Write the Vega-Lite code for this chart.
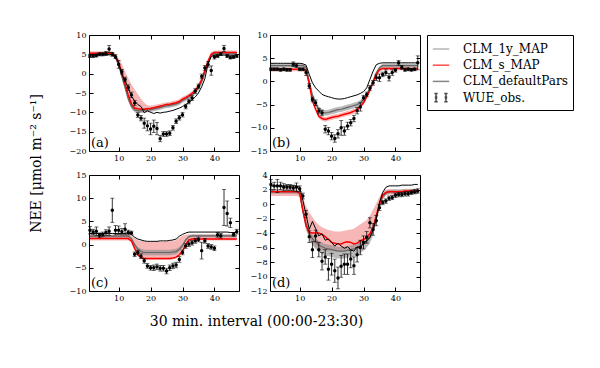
{
"$schema":"https://vega.github.io/schema/vega-lite/v6.json",
"background":"white",
"autosize":{"type":"pad"},
"padding":{"left":28,"top":30,"right":5,"bottom":5},
"datasets":{
"a":[
{"x":1,"o":4.6,"e":0.4,"d":4.9,"s":5.3,"sl":4.8,"sh":5.8,"g":5.1,"gl":4.7,"gh":5.5},
{"x":2,"o":4.6,"e":0.4,"d":4.9,"s":5.3,"sl":4.8,"sh":5.8,"g":5.1,"gl":4.7,"gh":5.5},
{"x":3,"o":4.7,"e":0.4,"d":4.9,"s":5.3,"sl":4.8,"sh":5.8,"g":5.1,"gl":4.7,"gh":5.5},
{"x":4,"o":5.0,"e":0.4,"d":4.9,"s":5.3,"sl":4.8,"sh":5.8,"g":5.1,"gl":4.7,"gh":5.5},
{"x":5,"o":5.0,"e":0.4,"d":4.9,"s":5.3,"sl":4.8,"sh":5.8,"g":5.1,"gl":4.7,"gh":5.5},
{"x":6,"o":5.2,"e":0.5,"d":4.9,"s":5.3,"sl":4.8,"sh":5.8,"g":5.1,"gl":4.7,"gh":5.5},
{"x":7,"o":6.4,"e":0.9,"d":4.9,"s":5.3,"sl":4.8,"sh":5.8,"g":5.1,"gl":4.7,"gh":5.5},
{"x":8,"o":5.0,"e":0.5,"d":4.9,"s":5.3,"sl":4.8,"sh":5.8,"g":5.1,"gl":4.7,"gh":5.5},
{"x":9,"o":4.4,"e":0.5,"d":4.5,"s":4.5,"sl":3.8,"sh":5.2,"g":4.2,"gl":3.7,"gh":4.8},
{"x":10,"o":2.4,"e":1.0,"d":2.7,"s":2.8,"sl":1.9,"sh":4.0,"g":2.2,"gl":1.6,"gh":2.9},
{"x":11,"o":0.5,"e":0.6,"d":-0.2,"s":0.3,"sl":-0.8,"sh":2.5,"g":-0.7,"gl":-1.4,"gh":0.0},
{"x":12,"o":-1.5,"e":0.6,"d":-1.9,"s":-2.6,"sl":-3.6,"sh":0.5,"g":-3.6,"gl":-4.3,"gh":-2.9},
{"x":13,"o":-3.6,"e":0.7,"d":-3.6,"s":-5.5,"sl":-6.4,"sh":-1.2,"g":-6.5,"gl":-7.2,"gh":-5.8},
{"x":14,"o":-5.5,"e":0.7,"d":-5.9,"s":-7.8,"sl":-8.6,"sh":-2.8,"g":-8.5,"gl":-9.1,"gh":-7.9},
{"x":15,"o":-7.6,"e":0.7,"d":-7.0,"s":-8.9,"sl":-9.6,"sh":-4.0,"g":-9.4,"gl":-10.0,"gh":-8.8},
{"x":16,"o":-10.7,"e":0.6,"d":-8.0,"s":-9.1,"sl":-9.8,"sh":-5.3,"g":-9.6,"gl":-10.2,"gh":-9.0},
{"x":17,"o":-11.5,"e":0.7,"d":-8.5,"s":-9.2,"sl":-9.8,"sh":-6.5,"g":-9.6,"gl":-10.2,"gh":-9.0},
{"x":18,"o":-12.8,"e":1.3,"d":-10.1,"s":-9.2,"sl":-9.8,"sh":-7.5,"g":-9.5,"gl":-10.1,"gh":-8.9},
{"x":19,"o":-13.5,"e":1.3,"d":-9.6,"s":-9.1,"sl":-9.7,"sh":-8.2,"g":-9.4,"gl":-10.0,"gh":-8.8},
{"x":20,"o":-14.3,"e":1.5,"d":-10.0,"s":-9.0,"sl":-9.6,"sh":-8.3,"g":-9.3,"gl":-9.9,"gh":-8.7},
{"x":21,"o":-13.6,"e":1.6,"d":-10.3,"s":-8.8,"sl":-9.4,"sh":-8.2,"g":-9.1,"gl":-9.7,"gh":-8.6},
{"x":22,"o":-14.2,"e":1.6,"d":-10.0,"s":-8.6,"sl":-9.2,"sh":-8.0,"g":-8.9,"gl":-9.5,"gh":-8.4},
{"x":23,"o":-16.8,"e":0.8,"d":-10.2,"s":-8.4,"sl":-9.0,"sh":-7.8,"g":-8.7,"gl":-9.3,"gh":-8.2},
{"x":24,"o":-15.6,"e":0.6,"d":-10.0,"s":-8.2,"sl":-8.8,"sh":-7.6,"g":-8.5,"gl":-9.1,"gh":-8.0},
{"x":25,"o":-15.6,"e":0.6,"d":-9.9,"s":-8.0,"sl":-8.6,"sh":-7.4,"g":-8.3,"gl":-8.9,"gh":-7.8},
{"x":26,"o":-15.4,"e":0.6,"d":-9.7,"s":-7.9,"sl":-8.5,"sh":-7.3,"g":-8.2,"gl":-8.8,"gh":-7.7},
{"x":27,"o":-14.0,"e":0.6,"d":-9.5,"s":-7.7,"sl":-8.3,"sh":-7.1,"g":-8.0,"gl":-8.6,"gh":-7.5},
{"x":28,"o":-12.3,"e":0.6,"d":-9.2,"s":-7.5,"sl":-8.1,"sh":-6.9,"g":-7.8,"gl":-8.4,"gh":-7.3},
{"x":29,"o":-11.4,"e":0.6,"d":-8.9,"s":-7.2,"sl":-7.8,"sh":-6.6,"g":-7.5,"gl":-8.1,"gh":-7.0},
{"x":30,"o":-10.6,"e":0.6,"d":-8.5,"s":-6.6,"sl":-7.2,"sh":-6.0,"g":-6.9,"gl":-7.5,"gh":-6.4},
{"x":31,"o":-8.5,"e":0.6,"d":-8.0,"s":-6.2,"sl":-6.8,"sh":-5.6,"g":-6.5,"gl":-7.1,"gh":-6.0},
{"x":32,"o":-7.2,"e":0.6,"d":-7.4,"s":-5.7,"sl":-6.3,"sh":-5.1,"g":-6.0,"gl":-6.6,"gh":-5.5},
{"x":33,"o":-6.3,"e":0.6,"d":-6.8,"s":-5.1,"sl":-5.7,"sh":-4.5,"g":-5.4,"gl":-6.0,"gh":-4.9},
{"x":34,"o":-4.5,"e":0.6,"d":-6.0,"s":-4.4,"sl":-5.0,"sh":-3.8,"g":-4.7,"gl":-5.3,"gh":-4.2},
{"x":35,"o":-3.3,"e":0.6,"d":-5.0,"s":-3.2,"sl":-3.9,"sh":-2.5,"g":-3.6,"gl":-4.3,"gh":-3.0},
{"x":36,"o":-0.7,"e":0.6,"d":-3.4,"s":-1.6,"sl":-2.4,"sh":-0.8,"g":-2.1,"gl":-2.8,"gh":-1.4},
{"x":37,"o":1.5,"e":0.6,"d":-1.3,"s":0.8,"sl":0.0,"sh":1.6,"g":0.3,"gl":-0.4,"gh":1.0},
{"x":38,"o":2.4,"e":0.7,"d":2.5,"s":3.2,"sl":2.5,"sh":3.9,"g":2.8,"gl":2.2,"gh":3.4},
{"x":39,"o":0.8,"e":1.2,"d":4.4,"s":5.0,"sl":4.4,"sh":5.6,"g":4.8,"gl":4.3,"gh":5.3},
{"x":40,"o":4.3,"e":0.5,"d":4.8,"s":5.5,"sl":5.0,"sh":6.0,"g":5.3,"gl":4.9,"gh":5.7},
{"x":41,"o":4.6,"e":0.4,"d":4.8,"s":5.5,"sl":5.0,"sh":6.0,"g":5.3,"gl":4.9,"gh":5.7},
{"x":42,"o":5.1,"e":0.4,"d":4.8,"s":5.5,"sl":5.0,"sh":6.0,"g":5.3,"gl":4.9,"gh":5.7},
{"x":43,"o":6.5,"e":0.8,"d":4.8,"s":5.5,"sl":5.0,"sh":6.0,"g":5.3,"gl":4.9,"gh":5.7},
{"x":44,"o":4.6,"e":0.4,"d":4.8,"s":5.5,"sl":5.0,"sh":6.0,"g":5.3,"gl":4.9,"gh":5.7},
{"x":45,"o":4.2,"e":0.4,"d":4.8,"s":5.5,"sl":5.0,"sh":6.0,"g":5.3,"gl":4.9,"gh":5.7},
{"x":46,"o":4.3,"e":0.4,"d":4.8,"s":5.5,"sl":5.0,"sh":6.0,"g":5.3,"gl":4.9,"gh":5.7},
{"x":47,"o":4.6,"e":0.4,"d":4.8,"s":5.5,"sl":5.0,"sh":6.0,"g":5.3,"gl":4.9,"gh":5.7}
],
"b":[
{"x":1,"o":2.6,"e":0.3,"d":3.9,"s":2.6,"sl":2.2,"sh":3.0,"g":3.4,"gl":3.0,"gh":3.8},
{"x":2,"o":2.6,"e":0.3,"d":3.9,"s":2.6,"sl":2.2,"sh":3.0,"g":3.4,"gl":3.0,"gh":3.8},
{"x":3,"o":2.6,"e":0.3,"d":3.9,"s":2.6,"sl":2.2,"sh":3.0,"g":3.4,"gl":3.0,"gh":3.8},
{"x":4,"o":2.5,"e":0.3,"d":3.9,"s":2.6,"sl":2.2,"sh":3.0,"g":3.4,"gl":3.0,"gh":3.8},
{"x":5,"o":2.6,"e":0.3,"d":3.9,"s":2.6,"sl":2.2,"sh":3.0,"g":3.4,"gl":3.0,"gh":3.8},
{"x":6,"o":2.5,"e":0.3,"d":3.9,"s":2.6,"sl":2.2,"sh":3.0,"g":3.4,"gl":3.0,"gh":3.8},
{"x":7,"o":2.5,"e":0.3,"d":3.9,"s":2.6,"sl":2.2,"sh":3.0,"g":3.4,"gl":3.0,"gh":3.8},
{"x":8,"o":3.7,"e":0.5,"d":3.9,"s":2.6,"sl":2.2,"sh":3.0,"g":3.4,"gl":3.0,"gh":3.8},
{"x":9,"o":3.4,"e":0.4,"d":3.9,"s":2.6,"sl":2.2,"sh":3.0,"g":3.4,"gl":3.0,"gh":3.8},
{"x":10,"o":2.6,"e":0.3,"d":3.9,"s":2.6,"sl":2.2,"sh":3.0,"g":3.4,"gl":3.0,"gh":3.8},
{"x":11,"o":2.6,"e":0.3,"d":3.8,"s":2.6,"sl":2.2,"sh":3.0,"g":3.4,"gl":3.0,"gh":3.8},
{"x":12,"o":1.9,"e":0.6,"d":3.5,"s":2.4,"sl":2.0,"sh":2.8,"g":3.0,"gl":2.6,"gh":3.4},
{"x":13,"o":-1.0,"e":0.5,"d":1.5,"s":-0.6,"sl":-1.1,"sh":-0.1,"g":0.0,"gl":-0.5,"gh":0.5},
{"x":14,"o":-3.9,"e":0.5,"d":-0.3,"s":-4.2,"sl":-4.7,"sh":-3.7,"g":-3.0,"gl":-3.6,"gh":-2.4},
{"x":15,"o":-4.6,"e":0.6,"d":-1.4,"s":-6.0,"sl":-6.5,"sh":-5.5,"g":-4.8,"gl":-5.4,"gh":-4.2},
{"x":16,"o":-6.4,"e":0.6,"d":-2.1,"s":-7.5,"sl":-8.0,"sh":-7.0,"g":-6.0,"gl":-6.6,"gh":-5.4},
{"x":17,"o":-6.8,"e":0.6,"d":-2.8,"s":-8.0,"sl":-8.5,"sh":-7.5,"g":-6.6,"gl":-7.2,"gh":-6.0},
{"x":18,"o":-10.3,"e":0.8,"d":-3.1,"s":-8.2,"sl":-8.7,"sh":-7.7,"g":-6.8,"gl":-7.4,"gh":-6.2},
{"x":19,"o":-10.7,"e":0.8,"d":-3.3,"s":-8.0,"sl":-8.5,"sh":-7.5,"g":-6.7,"gl":-7.3,"gh":-6.1},
{"x":20,"o":-11.8,"e":0.8,"d":-3.5,"s":-7.8,"sl":-8.3,"sh":-7.3,"g":-6.5,"gl":-7.1,"gh":-5.9},
{"x":21,"o":-12.3,"e":0.8,"d":-3.7,"s":-7.6,"sl":-8.1,"sh":-7.1,"g":-6.3,"gl":-6.9,"gh":-5.7},
{"x":22,"o":-11.3,"e":0.9,"d":-3.8,"s":-7.5,"sl":-8.0,"sh":-7.0,"g":-6.1,"gl":-6.7,"gh":-5.5},
{"x":23,"o":-10.0,"e":1.6,"d":-3.8,"s":-7.3,"sl":-7.8,"sh":-6.8,"g":-6.0,"gl":-6.6,"gh":-5.4},
{"x":24,"o":-10.7,"e":0.9,"d":-3.7,"s":-7.1,"sl":-7.6,"sh":-6.6,"g":-5.8,"gl":-6.4,"gh":-5.2},
{"x":25,"o":-9.6,"e":0.8,"d":-3.5,"s":-6.9,"sl":-7.4,"sh":-6.4,"g":-5.6,"gl":-6.2,"gh":-5.0},
{"x":26,"o":-8.9,"e":0.7,"d":-3.3,"s":-6.7,"sl":-7.2,"sh":-6.2,"g":-5.4,"gl":-6.0,"gh":-4.8},
{"x":27,"o":-8.0,"e":0.7,"d":-3.1,"s":-6.4,"sl":-6.9,"sh":-5.9,"g":-5.2,"gl":-5.8,"gh":-4.6},
{"x":28,"o":-6.3,"e":0.7,"d":-2.9,"s":-6.1,"sl":-6.6,"sh":-5.6,"g":-5.0,"gl":-5.6,"gh":-4.4},
{"x":29,"o":-5.5,"e":0.9,"d":-2.6,"s":-5.4,"sl":-5.9,"sh":-4.9,"g":-4.6,"gl":-5.2,"gh":-4.0},
{"x":30,"o":-3.5,"e":0.5,"d":-2.2,"s":-4.6,"sl":-5.1,"sh":-4.1,"g":-4.0,"gl":-4.6,"gh":-3.4},
{"x":31,"o":-2.8,"e":0.5,"d":-1.4,"s":-3.3,"sl":-3.8,"sh":-2.8,"g":-3.0,"gl":-3.5,"gh":-2.5},
{"x":32,"o":-1.4,"e":0.5,"d":0.4,"s":-1.9,"sl":-2.4,"sh":-1.4,"g":-1.6,"gl":-2.1,"gh":-1.1},
{"x":33,"o":-0.3,"e":0.5,"d":2.2,"s":-0.2,"sl":-0.7,"sh":0.3,"g":0.0,"gl":-0.5,"gh":0.5},
{"x":34,"o":0.8,"e":0.6,"d":3.6,"s":1.5,"sl":1.1,"sh":1.9,"g":1.8,"gl":1.4,"gh":2.2},
{"x":35,"o":0.8,"e":0.8,"d":3.9,"s":2.5,"sl":2.1,"sh":2.9,"g":2.9,"gl":2.5,"gh":3.3},
{"x":36,"o":1.5,"e":0.5,"d":4.0,"s":2.8,"sl":2.4,"sh":3.2,"g":3.4,"gl":3.0,"gh":3.8},
{"x":37,"o":1.9,"e":0.6,"d":4.0,"s":2.8,"sl":2.4,"sh":3.2,"g":3.4,"gl":3.0,"gh":3.8},
{"x":38,"o":0.9,"e":0.8,"d":4.0,"s":2.8,"sl":2.4,"sh":3.2,"g":3.4,"gl":3.0,"gh":3.8},
{"x":39,"o":1.9,"e":0.6,"d":4.0,"s":2.8,"sl":2.4,"sh":3.2,"g":3.4,"gl":3.0,"gh":3.8},
{"x":40,"o":2.4,"e":0.4,"d":4.0,"s":2.8,"sl":2.4,"sh":3.2,"g":3.4,"gl":3.0,"gh":3.8},
{"x":41,"o":4.0,"e":0.5,"d":4.0,"s":2.8,"sl":2.4,"sh":3.2,"g":3.4,"gl":3.0,"gh":3.8},
{"x":42,"o":3.0,"e":0.4,"d":4.0,"s":2.8,"sl":2.4,"sh":3.2,"g":3.4,"gl":3.0,"gh":3.8},
{"x":43,"o":2.5,"e":0.3,"d":4.0,"s":2.8,"sl":2.4,"sh":3.2,"g":3.4,"gl":3.0,"gh":3.8},
{"x":44,"o":2.6,"e":0.3,"d":4.0,"s":2.8,"sl":2.4,"sh":3.2,"g":3.4,"gl":3.0,"gh":3.8},
{"x":45,"o":2.5,"e":0.3,"d":4.0,"s":2.7,"sl":2.3,"sh":3.1,"g":3.4,"gl":3.0,"gh":3.8},
{"x":46,"o":2.6,"e":0.3,"d":4.0,"s":2.7,"sl":2.3,"sh":3.1,"g":3.4,"gl":3.0,"gh":3.8},
{"x":47,"o":4.0,"e":1.5,"d":4.0,"s":2.7,"sl":2.3,"sh":3.1,"g":3.4,"gl":3.0,"gh":3.8}
],
"c":[
{"x":1,"o":3.1,"e":0.8,"d":2.4,"s":1.3,"sl":0.9,"sh":2.1,"g":1.8,"gl":1.5,"gh":2.1},
{"x":2,"o":2.7,"e":0.6,"d":2.4,"s":1.3,"sl":0.9,"sh":2.1,"g":1.8,"gl":1.5,"gh":2.1},
{"x":3,"o":2.9,"e":0.9,"d":2.4,"s":1.3,"sl":0.9,"sh":2.1,"g":1.8,"gl":1.5,"gh":2.1},
{"x":4,"o":2.0,"e":0.5,"d":2.4,"s":1.3,"sl":0.9,"sh":2.1,"g":1.8,"gl":1.5,"gh":2.1},
{"x":5,"o":2.2,"e":0.5,"d":2.4,"s":1.3,"sl":0.9,"sh":2.1,"g":1.8,"gl":1.5,"gh":2.1},
{"x":6,"o":2.6,"e":0.6,"d":2.4,"s":1.3,"sl":0.9,"sh":2.1,"g":1.8,"gl":1.5,"gh":2.1},
{"x":7,"o":2.9,"e":0.9,"d":2.4,"s":1.3,"sl":0.9,"sh":2.1,"g":1.8,"gl":1.5,"gh":2.1},
{"x":8,"o":7.4,"e":2.6,"d":2.4,"s":1.3,"sl":0.9,"sh":2.1,"g":1.8,"gl":1.5,"gh":2.1},
{"x":9,"o":3.1,"e":1.0,"d":2.4,"s":1.3,"sl":0.9,"sh":2.1,"g":1.8,"gl":1.5,"gh":2.1},
{"x":10,"o":3.1,"e":0.9,"d":2.4,"s":1.3,"sl":0.9,"sh":2.1,"g":1.8,"gl":1.5,"gh":2.1},
{"x":11,"o":2.8,"e":0.7,"d":2.4,"s":1.3,"sl":0.9,"sh":2.1,"g":1.8,"gl":1.5,"gh":2.1},
{"x":12,"o":3.3,"e":1.2,"d":2.4,"s":1.3,"sl":0.9,"sh":2.1,"g":1.8,"gl":1.5,"gh":2.1},
{"x":13,"o":2.6,"e":0.5,"d":2.5,"s":1.3,"sl":0.9,"sh":2.1,"g":1.8,"gl":1.5,"gh":2.1},
{"x":14,"o":2.5,"e":0.4,"d":2.2,"s":0.8,"sl":0.5,"sh":1.9,"g":1.3,"gl":1.0,"gh":1.6},
{"x":15,"o":-2.1,"e":0.5,"d":1.6,"s":-0.8,"sl":-1.1,"sh":1.4,"g":0.0,"gl":-0.4,"gh":0.4},
{"x":16,"o":-1.7,"e":0.5,"d":1.2,"s":-2.2,"sl":-2.5,"sh":1.0,"g":-1.0,"gl":-1.5,"gh":-0.5},
{"x":17,"o":-2.5,"e":0.5,"d":1.0,"s":-2.8,"sl":-3.1,"sh":0.8,"g":-1.5,"gl":-2.1,"gh":-0.9},
{"x":18,"o":-3.5,"e":0.5,"d":0.8,"s":-3.0,"sl":-3.3,"sh":0.7,"g":-1.7,"gl":-2.3,"gh":-1.1},
{"x":19,"o":-4.6,"e":0.5,"d":0.7,"s":-3.0,"sl":-3.3,"sh":0.6,"g":-1.7,"gl":-2.3,"gh":-1.1},
{"x":20,"o":-5.0,"e":0.5,"d":0.7,"s":-3.0,"sl":-3.3,"sh":0.6,"g":-1.7,"gl":-2.3,"gh":-1.1},
{"x":21,"o":-5.0,"e":0.6,"d":0.7,"s":-3.0,"sl":-3.3,"sh":0.6,"g":-1.7,"gl":-2.3,"gh":-1.1},
{"x":22,"o":-4.8,"e":0.6,"d":0.7,"s":-3.0,"sl":-3.3,"sh":0.6,"g":-1.7,"gl":-2.3,"gh":-1.1},
{"x":23,"o":-5.1,"e":0.6,"d":0.8,"s":-3.0,"sl":-3.3,"sh":0.6,"g":-1.7,"gl":-2.3,"gh":-1.1},
{"x":24,"o":-5.1,"e":0.6,"d":0.8,"s":-3.0,"sl":-3.3,"sh":0.6,"g":-1.7,"gl":-2.3,"gh":-1.1},
{"x":25,"o":-5.7,"e":0.6,"d":0.8,"s":-3.0,"sl":-3.3,"sh":0.7,"g":-1.7,"gl":-2.3,"gh":-1.1},
{"x":26,"o":-5.0,"e":0.6,"d":0.9,"s":-3.0,"sl":-3.3,"sh":0.7,"g":-1.7,"gl":-2.3,"gh":-1.1},
{"x":27,"o":-4.6,"e":0.6,"d":1.0,"s":-2.9,"sl":-3.2,"sh":0.8,"g":-1.6,"gl":-2.2,"gh":-1.0},
{"x":28,"o":-4.4,"e":0.6,"d":1.2,"s":-2.7,"sl":-3.0,"sh":1.0,"g":-1.5,"gl":-2.1,"gh":-0.9},
{"x":29,"o":-3.2,"e":0.6,"d":1.8,"s":-2.2,"sl":-2.5,"sh":1.5,"g":-1.0,"gl":-1.5,"gh":-0.5},
{"x":30,"o":-1.7,"e":0.5,"d":2.2,"s":-1.4,"sl":-1.7,"sh":1.9,"g":-0.2,"gl":-0.6,"gh":0.2},
{"x":31,"o":-0.3,"e":0.5,"d":2.5,"s":0.0,"sl":-0.3,"sh":2.1,"g":1.0,"gl":0.7,"gh":1.3},
{"x":32,"o":0.1,"e":0.5,"d":2.7,"s":1.0,"sl":0.7,"sh":2.2,"g":1.7,"gl":1.4,"gh":2.0},
{"x":33,"o":0.4,"e":0.5,"d":2.7,"s":1.2,"sl":0.9,"sh":2.2,"g":1.9,"gl":1.6,"gh":2.2},
{"x":34,"o":0.8,"e":0.5,"d":2.7,"s":1.2,"sl":0.9,"sh":2.2,"g":1.9,"gl":1.6,"gh":2.2},
{"x":35,"o":1.1,"e":0.5,"d":2.7,"s":1.2,"sl":0.9,"sh":2.2,"g":1.9,"gl":1.6,"gh":2.2},
{"x":36,"o":-1.3,"e":1.8,"d":2.7,"s":1.2,"sl":0.9,"sh":2.2,"g":1.9,"gl":1.6,"gh":2.2},
{"x":37,"o":0.8,"e":0.5,"d":2.7,"s":1.2,"sl":0.9,"sh":2.2,"g":1.9,"gl":1.6,"gh":2.2},
{"x":38,"o":-0.3,"e":0.5,"d":2.7,"s":1.2,"sl":0.9,"sh":2.2,"g":1.9,"gl":1.6,"gh":2.2},
{"x":39,"o":-0.5,"e":0.5,"d":2.7,"s":1.2,"sl":0.9,"sh":2.2,"g":1.9,"gl":1.6,"gh":2.2},
{"x":40,"o":-0.8,"e":0.5,"d":2.7,"s":1.2,"sl":0.9,"sh":2.2,"g":1.9,"gl":1.6,"gh":2.2},
{"x":41,"o":2.1,"e":0.5,"d":2.7,"s":1.2,"sl":0.9,"sh":2.2,"g":1.9,"gl":1.6,"gh":2.2},
{"x":42,"o":1.9,"e":0.5,"d":2.7,"s":1.2,"sl":0.9,"sh":2.2,"g":1.9,"gl":1.6,"gh":2.2},
{"x":43,"o":8.0,"e":3.9,"d":2.7,"s":1.2,"sl":0.9,"sh":2.2,"g":1.9,"gl":1.6,"gh":2.2},
{"x":44,"o":6.7,"e":2.7,"d":2.7,"s":1.2,"sl":0.9,"sh":2.2,"g":1.9,"gl":1.6,"gh":2.2},
{"x":45,"o":4.7,"e":1.0,"d":2.6,"s":1.2,"sl":0.9,"sh":2.2,"g":1.9,"gl":1.6,"gh":2.2},
{"x":46,"o":2.2,"e":0.4,"d":2.6,"s":1.2,"sl":0.9,"sh":2.2,"g":1.9,"gl":1.6,"gh":2.2},
{"x":47,"o":2.8,"e":0.5,"d":2.6,"s":1.2,"sl":0.9,"sh":2.2,"g":1.9,"gl":1.6,"gh":2.2}
],
"d":[
{"x":1,"o":2.7,"e":0.7,"d":2.5,"s":1.7,"sl":1.1,"sh":2.0,"g":1.7,"gl":1.4,"gh":2.0},
{"x":2,"o":2.5,"e":0.5,"d":2.5,"s":1.7,"sl":1.1,"sh":2.0,"g":1.7,"gl":1.4,"gh":2.0},
{"x":3,"o":2.5,"e":0.9,"d":2.5,"s":1.7,"sl":1.1,"sh":2.0,"g":1.7,"gl":1.4,"gh":2.0},
{"x":4,"o":2.5,"e":0.5,"d":2.5,"s":1.7,"sl":1.1,"sh":2.0,"g":1.7,"gl":1.4,"gh":2.0},
{"x":5,"o":2.3,"e":0.5,"d":2.5,"s":1.7,"sl":1.1,"sh":2.0,"g":1.7,"gl":1.4,"gh":2.0},
{"x":6,"o":2.3,"e":0.4,"d":2.5,"s":1.7,"sl":1.1,"sh":2.0,"g":1.7,"gl":1.4,"gh":2.0},
{"x":7,"o":2.3,"e":0.4,"d":2.5,"s":1.7,"sl":1.1,"sh":2.0,"g":1.7,"gl":1.4,"gh":2.0},
{"x":8,"o":2.2,"e":0.4,"d":2.5,"s":1.7,"sl":1.1,"sh":2.0,"g":1.7,"gl":1.4,"gh":2.0},
{"x":9,"o":2.3,"e":0.6,"d":2.5,"s":1.7,"sl":1.1,"sh":2.0,"g":1.7,"gl":1.4,"gh":2.0},
{"x":10,"o":2.1,"e":0.4,"d":2.3,"s":1.5,"sl":1.0,"sh":1.9,"g":1.5,"gl":1.2,"gh":1.8},
{"x":11,"o":1.1,"e":0.4,"d":0.5,"s":-0.8,"sl":-1.5,"sh":0.9,"g":-1.0,"gl":-1.4,"gh":-0.6},
{"x":12,"o":-1.4,"e":0.5,"d":-1.5,"s":-3.0,"sl":-3.6,"sh":-0.3,"g":-2.8,"gl":-3.4,"gh":-2.2},
{"x":13,"o":-4.5,"e":0.8,"d":-3.5,"s":-3.9,"sl":-4.6,"sh":-1.2,"g":-4.0,"gl":-4.8,"gh":-3.4},
{"x":14,"o":-6.3,"e":1.1,"d":-2.4,"s":-4.0,"sl":-5.5,"sh":-1.8,"g":-4.8,"gl":-5.7,"gh":-4.2},
{"x":15,"o":-4.4,"e":0.8,"d":-3.4,"s":-4.0,"sl":-5.9,"sh":-2.4,"g":-5.3,"gl":-6.2,"gh":-4.7},
{"x":16,"o":-6.3,"e":1.0,"d":-4.4,"s":-4.0,"sl":-6.1,"sh":-2.9,"g":-5.7,"gl":-6.6,"gh":-5.1},
{"x":17,"o":-7.9,"e":1.2,"d":-4.1,"s":-4.2,"sl":-6.3,"sh":-3.2,"g":-5.9,"gl":-6.9,"gh":-5.3},
{"x":18,"o":-7.3,"e":1.0,"d":-5.0,"s":-4.5,"sl":-6.4,"sh":-3.4,"g":-6.1,"gl":-7.1,"gh":-5.5},
{"x":19,"o":-9.0,"e":1.5,"d":-4.8,"s":-4.9,"sl":-6.5,"sh":-3.6,"g":-6.2,"gl":-7.2,"gh":-5.6},
{"x":20,"o":-8.3,"e":1.5,"d":-5.3,"s":-5.3,"sl":-6.5,"sh":-3.7,"g":-6.3,"gl":-7.3,"gh":-5.7},
{"x":21,"o":-9.2,"e":1.6,"d":-5.8,"s":-5.4,"sl":-6.5,"sh":-3.8,"g":-6.4,"gl":-7.4,"gh":-5.8},
{"x":22,"o":-10.2,"e":1.5,"d":-5.4,"s":-5.5,"sl":-6.5,"sh":-3.8,"g":-6.5,"gl":-7.5,"gh":-5.9},
{"x":23,"o":-8.6,"e":1.5,"d":-5.8,"s":-5.5,"sl":-6.5,"sh":-3.8,"g":-6.5,"gl":-7.5,"gh":-5.9},
{"x":24,"o":-8.3,"e":1.4,"d":-6.1,"s":-5.3,"sl":-6.5,"sh":-3.7,"g":-6.5,"gl":-7.5,"gh":-5.9},
{"x":25,"o":-8.3,"e":1.4,"d":-5.9,"s":-5.2,"sl":-6.4,"sh":-3.6,"g":-6.4,"gl":-7.4,"gh":-5.8},
{"x":26,"o":-7.6,"e":1.2,"d":-6.3,"s":-5.3,"sl":-6.4,"sh":-3.5,"g":-6.3,"gl":-7.3,"gh":-5.7},
{"x":27,"o":-8.5,"e":1.2,"d":-6.5,"s":-5.5,"sl":-6.3,"sh":-3.4,"g":-6.2,"gl":-7.2,"gh":-5.6},
{"x":28,"o":-7.0,"e":1.0,"d":-5.9,"s":-5.4,"sl":-6.3,"sh":-3.1,"g":-6.0,"gl":-7.0,"gh":-5.4},
{"x":29,"o":-6.0,"e":1.0,"d":-6.0,"s":-5.1,"sl":-6.1,"sh":-2.8,"g":-5.8,"gl":-6.8,"gh":-5.2},
{"x":30,"o":-5.3,"e":0.9,"d":-5.4,"s":-4.9,"sl":-5.8,"sh":-2.5,"g":-5.5,"gl":-6.4,"gh":-4.9},
{"x":31,"o":-4.6,"e":0.8,"d":-5.1,"s":-4.6,"sl":-5.4,"sh":-2.2,"g":-5.1,"gl":-6.0,"gh":-4.5},
{"x":32,"o":-2.6,"e":0.7,"d":-4.6,"s":-4.1,"sl":-4.8,"sh":-1.6,"g":-4.6,"gl":-5.4,"gh":-4.0},
{"x":33,"o":-3.5,"e":0.8,"d":-3.6,"s":-3.3,"sl":-3.8,"sh":-0.8,"g":-3.6,"gl":-4.3,"gh":-3.0},
{"x":34,"o":-2.3,"e":0.7,"d":-2.0,"s":-1.6,"sl":-2.3,"sh":0.1,"g":-2.0,"gl":-2.6,"gh":-1.5},
{"x":35,"o":-0.5,"e":0.4,"d":0.2,"s":0.0,"sl":-0.5,"sh":1.0,"g":-0.2,"gl":-0.7,"gh":0.3},
{"x":36,"o":0.2,"e":0.3,"d":1.6,"s":1.2,"sl":0.8,"sh":1.7,"g":1.0,"gl":0.6,"gh":1.4},
{"x":37,"o":0.4,"e":0.3,"d":2.3,"s":1.6,"sl":1.2,"sh":2.0,"g":1.5,"gl":1.2,"gh":1.8},
{"x":38,"o":0.8,"e":0.3,"d":2.5,"s":1.7,"sl":1.3,"sh":2.0,"g":1.7,"gl":1.4,"gh":2.0},
{"x":39,"o":0.9,"e":0.3,"d":2.5,"s":1.7,"sl":1.3,"sh":2.0,"g":1.7,"gl":1.4,"gh":2.0},
{"x":40,"o":1.2,"e":0.3,"d":2.5,"s":1.7,"sl":1.3,"sh":2.0,"g":1.7,"gl":1.4,"gh":2.0},
{"x":41,"o":1.3,"e":0.3,"d":2.5,"s":1.7,"sl":1.3,"sh":2.0,"g":1.7,"gl":1.4,"gh":2.0},
{"x":42,"o":1.3,"e":0.3,"d":2.6,"s":1.7,"sl":1.3,"sh":2.0,"g":1.7,"gl":1.4,"gh":2.0},
{"x":43,"o":1.4,"e":0.3,"d":2.6,"s":1.8,"sl":1.4,"sh":2.1,"g":1.7,"gl":1.4,"gh":2.0},
{"x":44,"o":1.4,"e":0.3,"d":2.6,"s":1.8,"sl":1.4,"sh":2.1,"g":1.7,"gl":1.4,"gh":2.0},
{"x":45,"o":1.6,"e":0.3,"d":2.6,"s":1.8,"sl":1.4,"sh":2.1,"g":1.7,"gl":1.4,"gh":2.0},
{"x":46,"o":1.7,"e":0.3,"d":2.7,"s":1.8,"sl":1.4,"sh":2.1,"g":1.7,"gl":1.4,"gh":2.0},
{"x":47,"o":1.8,"e":0.3,"d":2.7,"s":1.8,"sl":1.4,"sh":2.1,"g":1.7,"gl":1.4,"gh":2.0}
]
},
"columns":2,
"spacing":{"row":24,"column":31},
"bounds":"flush",
"concat":[
{"width":150,"height":116,"data":{"name":"a"},
 "encoding":{"x":{"field":"x","type":"quantitative","scale":{"domain":[0.7,47.7],"nice":false,"zero":false},"axis":{"values":[10,20,30,40],"title":null}}},
 "resolve":{"axis":{"x":"independent","y":"independent"}},
 "layer":[
 {"layer":[
  {"mark":{"type":"area","color":"#f07070","opacity":0.5},"encoding":{"y":{"field":"sl","type":"quantitative","scale":{"domain":[-20,10],"nice":false,"zero":false},"axis":{"values":[-20,-15,-10,-5,0,5,10],"title":"NEE [μmol m⁻² s⁻¹]","titleX":-53,"titleY":128,"titleAngle":270,"titleAlign":"center","titleBaseline":"middle"}},"y2":{"field":"sh"}}},
  {"mark":{"type":"area","color":"#8a8a8a","opacity":0.6},"encoding":{"y":{"field":"gl","type":"quantitative","axis":{"values":[-20,-15,-10,-5,0,5,10],"title":"NEE [μmol m⁻² s⁻¹]","titleX":-53,"titleY":128,"titleAngle":270,"titleAlign":"center","titleBaseline":"middle"}},"y2":{"field":"gh"}}},
  {"mark":{"type":"line","color":"#666666","strokeWidth":1.2},"encoding":{"y":{"field":"g","type":"quantitative","axis":{"values":[-20,-15,-10,-5,0,5,10],"title":"NEE [μmol m⁻² s⁻¹]","titleX":-53,"titleY":128,"titleAngle":270,"titleAlign":"center","titleBaseline":"middle"}}}},
  {"mark":{"type":"line","color":"#ff0000","strokeWidth":1.5},"encoding":{"y":{"field":"s","type":"quantitative","axis":{"values":[-20,-15,-10,-5,0,5,10],"title":"NEE [μmol m⁻² s⁻¹]","titleX":-53,"titleY":128,"titleAngle":270,"titleAlign":"center","titleBaseline":"middle"}}}},
  {"mark":{"type":"line","color":"#000000","strokeWidth":1},"encoding":{"y":{"field":"d","type":"quantitative","axis":{"values":[-20,-15,-10,-5,0,5,10],"title":"NEE [μmol m⁻² s⁻¹]","titleX":-53,"titleY":128,"titleAngle":270,"titleAlign":"center","titleBaseline":"middle"}}}},
  {"mark":{"type":"errorbar","ticks":true,"size":4,"thickness":0.8,"color":"#000000"},"encoding":{"y":{"field":"o","type":"quantitative","axis":{"values":[-20,-15,-10,-5,0,5,10],"title":"NEE [μmol m⁻² s⁻¹]","titleX":-53,"titleY":128,"titleAngle":270,"titleAlign":"center","titleBaseline":"middle"}},"yError":{"field":"e"}}},
  {"mark":{"type":"point","filled":true,"size":12,"color":"#000000","opacity":1},"encoding":{"y":{"field":"o","type":"quantitative","axis":{"values":[-20,-15,-10,-5,0,5,10],"title":"NEE [μmol m⁻² s⁻¹]","titleX":-53,"titleY":128,"titleAngle":270,"titleAlign":"center","titleBaseline":"middle"}}}},
  {"data":{"values":[{"k":"CLM_1y_MAP"},{"k":"CLM_s_MAP"},{"k":"CLM_defaultPars"},{"k":"WUE_obs."}]},
   "mark":{"type":"point","filled":false,"clip":true,"invalid":"filter"},
   "encoding":{"y":{"field":"none","type":"quantitative","axis":{"values":[-20,-15,-10,-5,0,5,10],"title":"NEE [μmol m⁻² s⁻¹]","titleX":-53,"titleY":128,"titleAngle":270,"titleAlign":"center","titleBaseline":"middle"}},
    "color":{"field":"k","type":"nominal","scale":{"domain":["CLM_1y_MAP","CLM_s_MAP","CLM_defaultPars","WUE_obs."],"range":["#999999","#ff0000","#555555","#000000"]},"legend":{"title":null}},
    "shape":{"field":"k","type":"nominal","scale":{"domain":["CLM_1y_MAP","CLM_s_MAP","CLM_defaultPars","WUE_obs."],"range":["M-1,0L1,0","M-1,0L1,0","M-1,0L1,0","M-0.6,-0.5L-0.6,0.5M-0.8,-0.5L-0.4,-0.5M-0.8,0.5L-0.4,0.5M0.6,-0.5L0.6,0.5M0.4,-0.5L0.8,-0.5M0.4,0.5L0.8,0.5M-0.66,-0.06L-0.54,-0.06L-0.54,0.06L-0.66,0.06ZM0.54,-0.06L0.66,-0.06L0.66,0.06L0.54,0.06Z"]},"legend":{"title":null}}}}
 ]},
  {"transform":[{"filter":"datum.x == 1"}],"mark":{"type":"text","font":"DejaVu Serif","fontSize":13,"align":"left","baseline":"bottom","dx":1,"dy":-1,"fill":"#000000","clip":false},"encoding":{"x":{"field":"x","type":"quantitative","axis":{"orient":"top","values":[10,20,30,40],"labels":false,"title":null}},"y":{"datum":-20,"type":"quantitative","axis":{"orient":"right","values":[-20,-15,-10,-5,0,5,10],"labels":false,"title":null}},"text":{"value":"(a)"}}}
 ]},
{"width":150,"height":116,"data":{"name":"b"},
 "encoding":{"x":{"field":"x","type":"quantitative","scale":{"domain":[0.7,47.7],"nice":false,"zero":false},"axis":{"values":[10,20,30,40],"title":null}}},
 "resolve":{"axis":{"x":"independent","y":"independent"}},
 "layer":[
 {"layer":[
  {"mark":{"type":"area","color":"#f07070","opacity":0.5},"encoding":{"y":{"field":"sl","type":"quantitative","scale":{"domain":[-15,10],"nice":false,"zero":false},"axis":{"values":[-15,-10,-5,0,5,10],"title":null}},"y2":{"field":"sh"}}},
  {"mark":{"type":"area","color":"#8a8a8a","opacity":0.6},"encoding":{"y":{"field":"gl","type":"quantitative","axis":{"values":[-15,-10,-5,0,5,10],"title":null}},"y2":{"field":"gh"}}},
  {"mark":{"type":"line","color":"#666666","strokeWidth":1.2},"encoding":{"y":{"field":"g","type":"quantitative","axis":{"values":[-15,-10,-5,0,5,10],"title":null}}}},
  {"mark":{"type":"line","color":"#ff0000","strokeWidth":1.5},"encoding":{"y":{"field":"s","type":"quantitative","axis":{"values":[-15,-10,-5,0,5,10],"title":null}}}},
  {"mark":{"type":"line","color":"#000000","strokeWidth":1},"encoding":{"y":{"field":"d","type":"quantitative","axis":{"values":[-15,-10,-5,0,5,10],"title":null}}}},
  {"mark":{"type":"errorbar","ticks":true,"size":4,"thickness":0.8,"color":"#000000"},"encoding":{"y":{"field":"o","type":"quantitative","axis":{"values":[-15,-10,-5,0,5,10],"title":null}},"yError":{"field":"e"}}},
  {"mark":{"type":"point","filled":true,"size":12,"color":"#000000","opacity":1},"encoding":{"y":{"field":"o","type":"quantitative","axis":{"values":[-15,-10,-5,0,5,10],"title":null}}}}
 ]},
  {"transform":[{"filter":"datum.x == 1"}],"mark":{"type":"text","font":"DejaVu Serif","fontSize":13,"align":"left","baseline":"bottom","dx":1,"dy":-1,"fill":"#000000","clip":false},"encoding":{"x":{"field":"x","type":"quantitative","axis":{"orient":"top","values":[10,20,30,40],"labels":false,"title":null}},"y":{"datum":-15,"type":"quantitative","axis":{"orient":"right","values":[-15,-10,-5,0,5,10],"labels":false,"title":null}},"text":{"value":"(b)"}}}
 ]},
{"width":150,"height":116,"data":{"name":"c"},
 "encoding":{"x":{"field":"x","type":"quantitative","scale":{"domain":[0.7,47.7],"nice":false,"zero":false},"axis":{"values":[10,20,30,40],"title":"30 min. interval (00:00-23:30)","titleX":167,"titleY":30,"titleAlign":"center","titleBaseline":"middle"}}},
 "resolve":{"axis":{"x":"independent","y":"independent"}},
 "layer":[
 {"layer":[
  {"mark":{"type":"area","color":"#f07070","opacity":0.5},"encoding":{"y":{"field":"sl","type":"quantitative","scale":{"domain":[-10,15],"nice":false,"zero":false},"axis":{"values":[-10,-5,0,5,10,15],"title":null}},"y2":{"field":"sh"}}},
  {"mark":{"type":"area","color":"#8a8a8a","opacity":0.6},"encoding":{"y":{"field":"gl","type":"quantitative","axis":{"values":[-10,-5,0,5,10,15],"title":null}},"y2":{"field":"gh"}}},
  {"mark":{"type":"line","color":"#666666","strokeWidth":1.2},"encoding":{"y":{"field":"g","type":"quantitative","axis":{"values":[-10,-5,0,5,10,15],"title":null}}}},
  {"mark":{"type":"line","color":"#ff0000","strokeWidth":1.5},"encoding":{"y":{"field":"s","type":"quantitative","axis":{"values":[-10,-5,0,5,10,15],"title":null}}}},
  {"mark":{"type":"line","color":"#000000","strokeWidth":1},"encoding":{"y":{"field":"d","type":"quantitative","axis":{"values":[-10,-5,0,5,10,15],"title":null}}}},
  {"mark":{"type":"errorbar","ticks":true,"size":4,"thickness":0.8,"color":"#000000"},"encoding":{"y":{"field":"o","type":"quantitative","axis":{"values":[-10,-5,0,5,10,15],"title":null}},"yError":{"field":"e"}}},
  {"mark":{"type":"point","filled":true,"size":12,"color":"#000000","opacity":1},"encoding":{"y":{"field":"o","type":"quantitative","axis":{"values":[-10,-5,0,5,10,15],"title":null}}}}
 ]},
  {"transform":[{"filter":"datum.x == 1"}],"mark":{"type":"text","font":"DejaVu Serif","fontSize":13,"align":"left","baseline":"bottom","dx":1,"dy":-1,"fill":"#000000","clip":false},"encoding":{"x":{"field":"x","type":"quantitative","axis":{"orient":"top","values":[10,20,30,40],"labels":false,"title":null}},"y":{"datum":-10,"type":"quantitative","axis":{"orient":"right","values":[-10,-5,0,5,10,15],"labels":false,"title":null}},"text":{"value":"(c)"}}}
 ]},
{"width":150,"height":116,"data":{"name":"d"},
 "encoding":{"x":{"field":"x","type":"quantitative","scale":{"domain":[0.7,47.7],"nice":false,"zero":false},"axis":{"values":[10,20,30,40],"title":null}}},
 "resolve":{"axis":{"x":"independent","y":"independent"}},
 "layer":[
 {"layer":[
  {"mark":{"type":"area","color":"#f07070","opacity":0.5},"encoding":{"y":{"field":"sl","type":"quantitative","scale":{"domain":[-12,4],"nice":false,"zero":false},"axis":{"values":[-12,-10,-8,-6,-4,-2,0,2,4],"title":null}},"y2":{"field":"sh"}}},
  {"mark":{"type":"area","color":"#8a8a8a","opacity":0.6},"encoding":{"y":{"field":"gl","type":"quantitative","axis":{"values":[-12,-10,-8,-6,-4,-2,0,2,4],"title":null}},"y2":{"field":"gh"}}},
  {"mark":{"type":"line","color":"#666666","strokeWidth":1.2},"encoding":{"y":{"field":"g","type":"quantitative","axis":{"values":[-12,-10,-8,-6,-4,-2,0,2,4],"title":null}}}},
  {"mark":{"type":"line","color":"#ff0000","strokeWidth":1.5},"encoding":{"y":{"field":"s","type":"quantitative","axis":{"values":[-12,-10,-8,-6,-4,-2,0,2,4],"title":null}}}},
  {"mark":{"type":"line","color":"#000000","strokeWidth":1},"encoding":{"y":{"field":"d","type":"quantitative","axis":{"values":[-12,-10,-8,-6,-4,-2,0,2,4],"title":null}}}},
  {"mark":{"type":"errorbar","ticks":true,"size":4,"thickness":0.8,"color":"#000000"},"encoding":{"y":{"field":"o","type":"quantitative","axis":{"values":[-12,-10,-8,-6,-4,-2,0,2,4],"title":null}},"yError":{"field":"e"}}},
  {"mark":{"type":"point","filled":true,"size":12,"color":"#000000","opacity":1},"encoding":{"y":{"field":"o","type":"quantitative","axis":{"values":[-12,-10,-8,-6,-4,-2,0,2,4],"title":null}}}}
 ]},
  {"transform":[{"filter":"datum.x == 1"}],"mark":{"type":"text","font":"DejaVu Serif","fontSize":13,"align":"left","baseline":"bottom","dx":1,"dy":-1,"fill":"#000000","clip":false},"encoding":{"x":{"field":"x","type":"quantitative","axis":{"orient":"top","values":[10,20,30,40],"labels":false,"title":null}},"y":{"datum":-12,"type":"quantitative","axis":{"orient":"right","values":[-12,-10,-8,-6,-4,-2,0,2,4],"labels":false,"title":null}},"text":{"value":"(d)"}}}
 ]}
],
"config":{
 "view":{"stroke":"#000000","strokeWidth":1},
 "axis":{"grid":false,"domain":false,"labelFont":"DejaVu Serif","labelFontSize":8,"labelColor":"#000000","tickColor":"#000000","tickSize":-4,"labelPadding":7,"labelFlush":false,"labelOverlap":false,"titleFont":"DejaVu Serif","titleFontSize":14,"titleFontWeight":"normal","titleColor":"#000000"},
 "legend":{"orient":"none","legendX":338,"legendY":0,"strokeColor":"#000000","fillColor":"#ffffff","padding":5,"labelFont":"DejaVu Serif","labelFontSize":12,"labelColor":"#000000","symbolSize":270,"symbolStrokeWidth":1.5,"labelOffset":13,"rowPadding":1.2}
}
}
